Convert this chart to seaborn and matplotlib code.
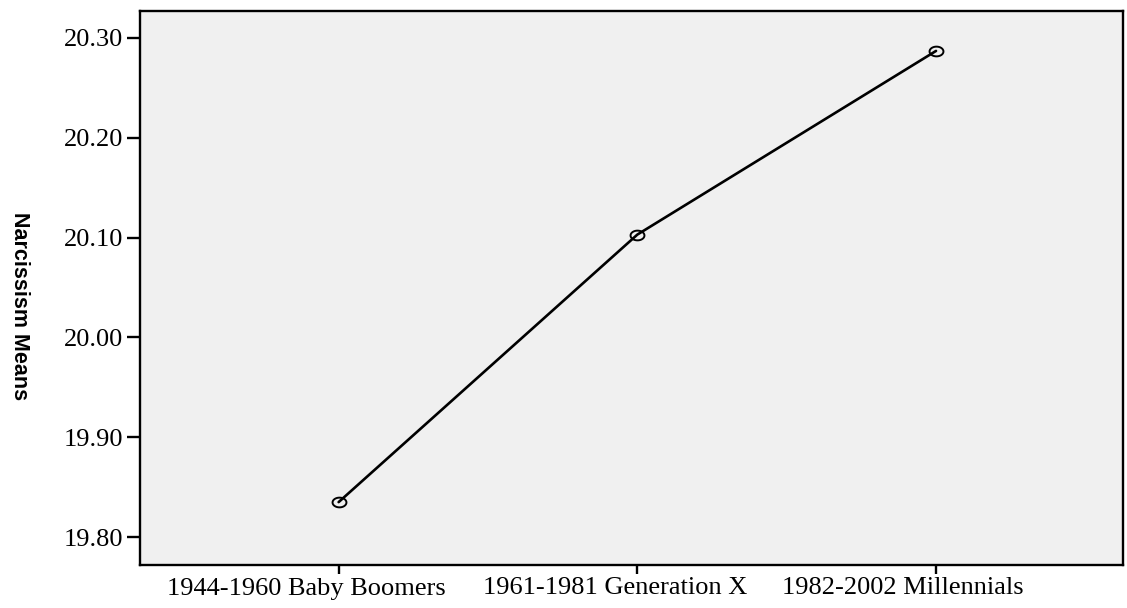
import numpy as np
import pandas as pd
import matplotlib
matplotlib.use("Agg")
import matplotlib.pyplot as plt
import matplotlib.transforms as mtransforms
from matplotlib.path import Path
import seaborn as sns

categories = ["1944-1960 Baby Boomers", "1961-1981 Generation X", "1982-2002 Millennials"]
means = [19.835, 20.103, 20.287]
ytick_values = [19.80, 19.90, 20.00, 20.10, 20.20, 20.30]
ytick_labels = ["19.80", "19.90", "20.00", "20.10", "20.20", "20.30"]

# horizontal offsets (px) of the category labels relative to their ticks, as in the original
label_shift_px = [-32, -22, -33]

df = pd.DataFrame({"group": categories, "mean": means})

sns.set_theme(style="white")
plt.rcParams["font.family"] = ["Liberation Serif", "DejaVu Serif"]

fig = plt.figure(figsize=(11.27, 6.08), dpi=100)
ax = fig.add_axes([140 / 1127, 1 - 565 / 608, (1123 - 140) / 1127, (565 - 11) / 608])
ax.set_facecolor("#F0F0F0")

# elliptical open marker (wider than tall)
t = np.linspace(0, 2 * np.pi, 60)
verts = np.column_stack([np.cos(t), 0.7 * np.sin(t)])
ellipse = Path(verts, closed=True)

sns.lineplot(data=df, x="group", y="mean", ax=ax, color="black", linewidth=1.9,
             marker=ellipse, markersize=10, markerfacecolor="none",
             markeredgecolor="black", markeredgewidth=1.4, sort=False)

ax.set_xlim(-0.665, 2.626)
ax.set_ylim(19.772, 20.327)
ax.set_yticks(ytick_values)
ax.set_yticklabels(ytick_labels)
ax.set_xticks(range(len(categories)))
ax.set_xticklabels(categories)

for s in ax.spines.values():
    s.set_visible(True)
    s.set_color("black")
    s.set_linewidth(1.7)

ax.tick_params(axis="y", direction="out", length=9.5, width=1.7, colors="black",
               labelsize=19, pad=2.5, left=True)
ax.tick_params(axis="x", direction="out", length=6.5, width=1.7, colors="black",
               labelsize=19, pad=2.5, bottom=True)
for lab in ax.get_xticklabels() + ax.get_yticklabels():
    lab.set_color("black")

for lab, dx in zip(ax.get_xticklabels(), label_shift_px):
    off = mtransforms.ScaledTranslation(dx / 100, 0, fig.dpi_scale_trans)
    lab.set_transform(lab.get_transform() + off)

ax.set_xlabel("")
ax.set_ylabel("Narcissism Means", family=["Liberation Sans", "DejaVu Sans"],
              fontweight="bold", fontsize=15.5, rotation=270, color="black",
              va="center", ha="center")
ax.yaxis.set_label_coords(-0.123, 0.4675)
ax.grid(False)

fig.savefig("out.png", dpi=100)
